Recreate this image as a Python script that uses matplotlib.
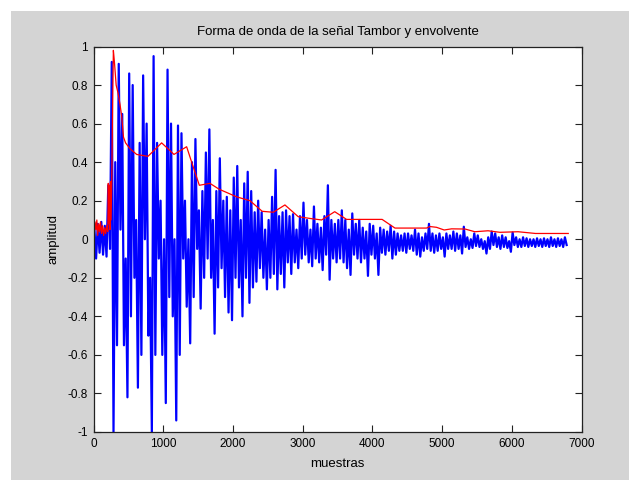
import matplotlib
matplotlib.use("Agg")
import matplotlib.pyplot as plt
from matplotlib.patches import Rectangle

plt.rcParams['font.family'] = ['Liberation Sans', 'DejaVu Sans']

# drum signal: highest and lowest amplitude in every block of 50 samples
bin_size = 50
blue_hi = [0.06, 0.08, 0.09, 0.07, 0.28, 0.92, 0.40, 0.91, 0.65, -0.10,
           0.86, 0.80, 0.10, 0.50, 0.85, 0.60, -0.20, 0.95, 0.50, 0.20,
           0.00, 0.88, 0.60, 0.00, 0.59, 0.55, 0.20, 0.00, 0.40, 0.52,
           0.15, 0.25, 0.45, 0.57, 0.10, 0.25, 0.42, 0.20, 0.22, 0.15,
           0.32, 0.38, 0.10, 0.29, 0.35, 0.25, 0.14, 0.20, 0.14, 0.05,
           0.10, 0.22, 0.36, 0.12, 0.14, 0.15, 0.12, 0.13, 0.05, 0.12,
           0.19, 0.10, 0.05, 0.17, 0.08, 0.06, 0.12, 0.28, 0.10, 0.08,
           0.10, 0.15, 0.10, 0.05, 0.134, 0.08, 0.10, 0.06, 0.04, 0.08,
           0.07, 0.03, 0.06, 0.05, 0.04, 0.07, 0.04, 0.03, 0.02, 0.03,
           0.03, 0.02, 0.05, 0.03, 0.01, 0.03, 0.08, 0.03, 0.02, 0.03,
           0.01, 0.03, 0.02, 0.04, 0.03, 0.02, 0.065, 0.01, 0.00, 0.03,
           0.02, 0.00, -0.01, 0.01, 0.04, 0.03, 0.01, 0.02, 0.01, -0.01,
           0.035, 0.01, 0.00, 0.01, 0.005, 0.00, 0.00, 0.005, 0.00, 0.005,
           0.00, 0.01, 0.00, 0.005, 0.00, 0.01]
blue_lo = [-0.10, -0.07, -0.08, -0.09, -0.05, -1.00, -0.55, 0.05, -0.55, -0.82,
           -0.40, -0.20, -0.77, -0.60, 0.00, -0.50, -1.00, -0.60, -0.10, -0.60,
           -0.85, -0.30, -0.40, -0.94, -0.60, -0.10, -0.35, -0.54, -0.30, -0.05,
           -0.36, -0.20, -0.10, -0.20, -0.49, -0.25, -0.15, -0.30, -0.38, -0.42,
           -0.20, -0.25, -0.40, -0.20, -0.33, -0.25, -0.22, -0.15, -0.20, -0.26,
           -0.20, -0.18, -0.26, -0.18, -0.25, -0.12, -0.18, -0.12, -0.15, -0.10,
           -0.08, -0.12, -0.14, -0.10, -0.12, -0.16, -0.08, -0.21, -0.10, -0.12,
           -0.10, -0.12, -0.15, -0.185, -0.08, -0.10, -0.12, -0.10, -0.19, -0.08,
           -0.10, -0.185, -0.07, -0.08, -0.06, -0.10, -0.08, -0.06, -0.06, -0.07,
           -0.05, -0.06, -0.08, -0.09, -0.06, -0.05, -0.06, -0.07, -0.06, -0.05,
           -0.09, -0.05, -0.05, -0.06, -0.05, -0.074, -0.04, -0.05, -0.045, -0.035,
           -0.04, -0.05, -0.074, -0.05, -0.03, -0.04, -0.05, -0.04, -0.045, -0.065,
           -0.03, -0.04, -0.04, -0.035, -0.04, -0.035, -0.04, -0.035, -0.04, -0.035,
           -0.04, -0.035, -0.04, -0.035, -0.04, -0.03]

# envelope
env_x = [0, 12, 22, 35, 48, 60, 75, 88, 100, 115, 130, 145, 160, 175, 190, 205,
         212, 220, 228, 236, 244, 252, 262, 272, 285, 300, 325, 351, 380, 404,
         430, 460, 523, 619, 781, 977, 1097, 1154, 1336, 1408, 1518, 1670, 1800,
         2053, 2244, 2420, 2579, 2746, 2937, 3104, 3272, 3460, 3630, 4140, 4324,
         4777, 4825, 4920, 5030, 5136, 5330, 5470, 5660, 5830, 6090, 6340, 6810]
env_y = [0.10, 0.03, 0.09, 0.05, 0.10, 0.02, 0.08, 0.04, 0.09, 0.03, 0.07, 0.02,
         0.06, 0.03, 0.07, 0.04, 0.29, 0.08, 0.28, 0.05, 0.30, 0.10, 0.30, 0.63,
         0.98, 0.92, 0.80, 0.76, 0.70, 0.64, 0.53, 0.50, 0.47, 0.44, 0.43, 0.50,
         0.46, 0.44, 0.48, 0.40, 0.28, 0.29, 0.26, 0.22, 0.20, 0.145, 0.14, 0.178,
         0.117, 0.108, 0.10, 0.143, 0.103, 0.103, 0.058, 0.058, 0.066, 0.062,
         0.048, 0.054, 0.053, 0.039, 0.044, 0.036, 0.039, 0.030, 0.030]

xticks = [0, 1000, 2000, 3000, 4000, 5000, 6000, 7000]
yticks = [-1, -0.8, -0.6, -0.4, -0.2, 0, 0.2, 0.4, 0.6, 0.8, 1]
ytick_labels = ['-1', '-0.8', '-0.6', '-0.4', '-0.2', '0', '0.2', '0.4', '0.6', '0.8', '1']

sig_x = []
sig_y = []
for i in range(len(blue_hi)):
    sig_x.append(i * bin_size + 12)
    sig_y.append(blue_hi[i])
    sig_x.append(i * bin_size + 37)
    sig_y.append(blue_lo[i])

fig = plt.figure(figsize=(6.29, 4.8), dpi=100)
fig.patch.set_facecolor('white')
fig.patches.append(Rectangle((11 / 629, 0), 1, 469 / 480, transform=fig.transFigure,
                             facecolor='#d4d4d4', edgecolor='none', zorder=-10))

ax = fig.add_axes([93.5 / 629, 48 / 480, 488 / 629, 385.5 / 480])
ax.plot(sig_x, sig_y, color='#0000ff', lw=1.6)
ax.plot(env_x, env_y, color='#ff0000', lw=0.9)

ax.set_xlim(0, 7000)
ax.set_ylim(-1, 1)
ax.set_xticks(xticks)
ax.set_xticklabels([str(t) for t in xticks])
ax.set_yticks(yticks)
ax.set_yticklabels(ytick_labels)
ax.tick_params(direction='in', top=True, right=True, length=5, width=0.8,
               labelsize=8.5, pad=4, color='#222222')
for sp in ax.spines.values():
    sp.set_color('#222222')
    sp.set_linewidth(0.9)

ax.set_title('Forma de onda de la señal Tambor y envolvente', fontsize=9.5, pad=8)
ax.set_xlabel('muestras', fontsize=9.5, labelpad=6)
ax.set_ylabel('amplitud', fontsize=9.5, labelpad=6)

fig.savefig('out.png', dpi=100)
